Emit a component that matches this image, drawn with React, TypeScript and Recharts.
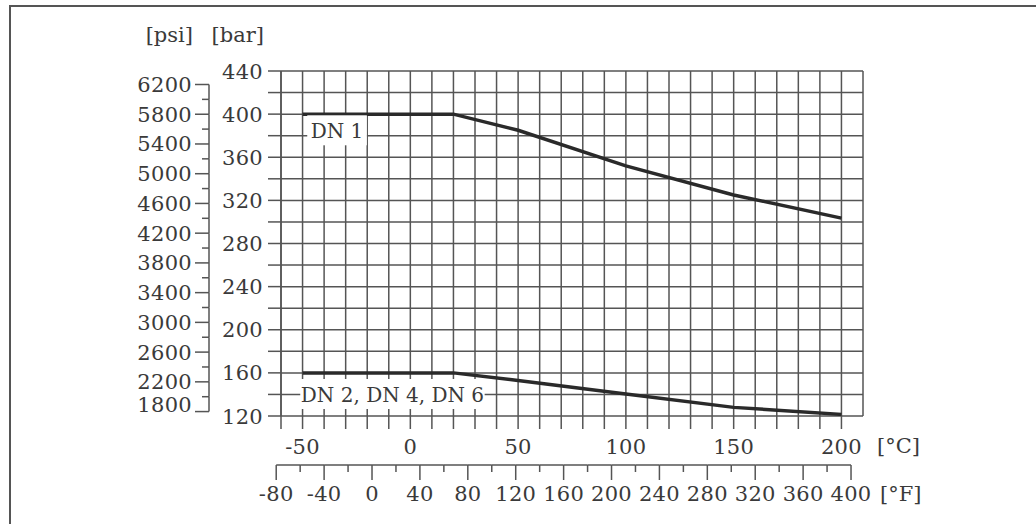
import React from 'react';
import { ComposedChart, Line, XAxis, YAxis, CartesianGrid, ReferenceDot } from 'recharts';

// ---- data ----
const tempC = [-50, 20, 50, 100, 150, 200];
const dn1Bar = [400, 400, 385, 352, 325, 303.5];
const dn246Bar = [160, 160, 153, 140.5, 128, 121.5];

const cTicks = [-60, -50, -40, -30, -20, -10, 0, 10, 20, 30, 40, 50, 60, 70, 80, 90, 100, 110, 120, 130, 140, 150, 160, 170, 180, 190, 200, 210];
const cLabels = [-50, 0, 50, 100, 150, 200];
const fTicks = [-80, -60, -40, -20, 0, 20, 40, 60, 80, 100, 120, 140, 160, 180, 200, 220, 240, 260, 280, 300, 320, 340, 360, 380, 400];
const fLabels = [-80, -40, 0, 40, 80, 120, 160, 200, 240, 280, 320, 360, 400];
const barTicks = [120, 140, 160, 180, 200, 220, 240, 260, 280, 300, 320, 340, 360, 380, 400, 420, 440];
const barLabels = [120, 160, 200, 240, 280, 320, 360, 400, 440];
const psiTicks = [1800, 2000, 2200, 2400, 2600, 2800, 3000, 3200, 3400, 3600, 3800, 4000, 4200, 4400, 4600, 4800, 5000, 5200, 5400, 5600, 5800, 6000, 6200];
const psiLabels = [1800, 2200, 2600, 3000, 3400, 3800, 4200, 4600, 5000, 5400, 5800, 6200];

const seriesNames = ['DN 1', 'DN 2, DN 4, DN 6'];
const labelTemps = [-34, -8.3];
const labelBars = [385, 140.4];

const PSI_PER_BAR = 14.5038;
const X_DOMAIN: [number, number] = [-60, 210];
const Y_DOMAIN: [number, number] = [120, 440];

const dn1Data = tempC.map((t, i) => ({ t, p: dn1Bar[i] }));
const dn246Data = tempC.map((t, i) => ({ t, p: dn246Bar[i] }));

// ---- layout ----
const W = 1036;
const H = 524;
const MARGIN = { top: 71, right: 173, bottom: 19, left: 0 };
const BAR_AXIS_W = 72;
const PSI_AXIS_W = 209;
const C_AXIS_H = 49;
const F_AXIS_H = 40;
const PLOT_W = W - MARGIN.left - MARGIN.right - BAR_AXIS_W - PSI_AXIS_W;
const PLOT_H = H - MARGIN.top - MARGIN.bottom - C_AXIS_H - F_AXIS_H;
const PSI_STEP_PX = (PLOT_H / ((Y_DOMAIN[1] - Y_DOMAIN[0]) * PSI_PER_BAR)) * (psiTicks[1] - psiTicks[0]);
const F_STEP_PX = (PLOT_W / ((X_DOMAIN[1] - X_DOMAIN[0]) * 1.8)) * (fTicks[1] - fTicks[0]);

const FONT = "'DejaVu Serif', serif";
const FS = 21;
const LS = 0.3;
const TXT = '#3a3a3a';
const GRID = '#555';
const LINE = '#2a2a2a';

const PsiTick = (props: any) => {
  const { x, y, payload } = props;
  const v = payload.value;
  const major = psiLabels.includes(v);
  const last = v === psiTicks[psiTicks.length - 1];
  const first = v === psiTicks[0];
  return (
    <g>
      <line x1={x - (major ? 14 : 7)} x2={x} y1={y} y2={y} stroke={GRID} strokeWidth={1.5} />
      {!last && <line x1={x} x2={x} y1={y} y2={y - PSI_STEP_PX} stroke={GRID} strokeWidth={1.5} />}
      {major && (
        <text x={x - 17} y={y + 7.5 - (first ? 7 : 0)} textAnchor="end" fontFamily={FONT} fontSize={FS} letterSpacing={LS} fill={TXT}>
          {v}
        </text>
      )}
    </g>
  );
};

const BarTick = (props: any) => {
  const { x, y, payload } = props;
  const v = payload.value;
  return (
    <g>
      <line x1={x - 13} x2={x} y1={y} y2={y} stroke={GRID} strokeWidth={1.5} />
      {barLabels.includes(v) && (
        <text x={x - 18} y={y + 7.5} textAnchor="end" fontFamily={FONT} fontSize={FS} letterSpacing={LS} fill={TXT}>
          {v}
        </text>
      )}
    </g>
  );
};

const CTick = (props: any) => {
  const { x, y, payload } = props;
  const v = payload.value;
  return (
    <g>
      {v < X_DOMAIN[1] && <line x1={x} x2={x} y1={y} y2={y + 13} stroke={GRID} strokeWidth={1.5} />}
      {cLabels.includes(v) && (
        <text x={x} y={y + 37.5} textAnchor="middle" fontFamily={FONT} fontSize={FS} letterSpacing={LS} fill={TXT}>
          {v}
        </text>
      )}
    </g>
  );
};

const FTick = (props: any) => {
  const { x, y, payload } = props;
  const v = payload.value;
  const major = fLabels.includes(v);
  const last = v === fTicks[fTicks.length - 1];
  return (
    <g>
      <line x1={x} x2={x} y1={y} y2={y + (major ? 15 : 7)} stroke={GRID} strokeWidth={1.5} />
      {!last && <line x1={x} x2={x + F_STEP_PX} y1={y} y2={y} stroke={GRID} strokeWidth={1.5} />}
      {major && (
        <text x={x} y={y + 36} textAnchor="middle" fontFamily={FONT} fontSize={FS} letterSpacing={LS} fill={TXT}>
          {v}
        </text>
      )}
    </g>
  );
};

const makeLabelShape = (text: string) => (props: any) => {
  const { cx, cy } = props;
  const w = text.length * 10.4 + 18;
  return (
    <g>
      <rect x={cx - w / 2} y={cy - 15} width={w} height={30} fill="#fff" />
      <text x={cx} y={cy + 7.5} textAnchor="middle" fontFamily={FONT} fontSize={20} fill={TXT}>
        {text}
      </text>
    </g>
  );
};

export default function App() {
  return (
    <div style={{ position: 'absolute', left: 0, top: 0, width: W, height: H, background: '#fff' }}>
      <ComposedChart width={W} height={H} margin={MARGIN}>
        <CartesianGrid xAxisId="c" yAxisId="bar" stroke={GRID} strokeWidth={1.5} />
        <XAxis
          xAxisId="c"
          type="number"
          dataKey="t"
          domain={X_DOMAIN}
          ticks={cTicks}
          interval={0}
          allowDataOverflow
          height={C_AXIS_H}
          axisLine={false}
          tickLine={false}
          tickSize={0}
          tickMargin={0}
          tick={<CTick />}
        />
        <XAxis
          xAxisId="f"
          type="number"
          dataKey="f"
          domain={[X_DOMAIN[0] * 1.8 + 32, X_DOMAIN[1] * 1.8 + 32]}
          ticks={fTicks}
          interval={0}
          allowDataOverflow
          height={F_AXIS_H}
          axisLine={false}
          tickLine={false}
          tickSize={0}
          tickMargin={0}
          tick={<FTick />}
        />
        <YAxis
          yAxisId="bar"
          type="number"
          domain={Y_DOMAIN}
          ticks={barTicks}
          interval={0}
          allowDataOverflow
          width={BAR_AXIS_W}
          axisLine={{ stroke: GRID, strokeWidth: 1.5 }}
          tickLine={false}
          tickSize={0}
          tickMargin={0}
          tick={<BarTick />}
        />
        <YAxis
          yAxisId="psi"
          type="number"
          domain={[Y_DOMAIN[0] * PSI_PER_BAR, Y_DOMAIN[1] * PSI_PER_BAR]}
          ticks={psiTicks}
          interval={0}
          allowDataOverflow
          width={PSI_AXIS_W}
          axisLine={false}
          tickLine={false}
          tickSize={0}
          tickMargin={0}
          tick={<PsiTick />}
        />
        <Line
          xAxisId="c"
          yAxisId="bar"
          data={dn1Data}
          dataKey="p"
          type="linear"
          stroke={LINE}
          strokeWidth={3.5}
          dot={false}
          isAnimationActive={false}
        />
        <Line
          xAxisId="c"
          yAxisId="bar"
          data={dn246Data}
          dataKey="p"
          type="linear"
          stroke={LINE}
          strokeWidth={3.5}
          dot={false}
          isAnimationActive={false}
        />
        {seriesNames.map((name, i) => (
          <ReferenceDot
            key={name}
            xAxisId="c"
            yAxisId="bar"
            x={labelTemps[i]}
            y={labelBars[i]}
            r={0}
            shape={makeLabelShape(name)}
          />
        ))}
      </ComposedChart>
      <svg width={W} height={H} style={{ position: 'absolute', left: 0, top: 0, pointerEvents: 'none' }}>
        <path d={`M10,${H} V6 H${W}`} fill="none" stroke="#555" strokeWidth={2} />
        <g fontFamily={FONT} fontSize={FS} fill={TXT}>
          <text x={193} y={42} textAnchor="end">[psi]</text>
          <text x={264} y={42} textAnchor="end">[bar]</text>
          <text x={877} y={453}>[°C]</text>
          <text x={880} y={501}>[°F]</text>
        </g>
      </svg>
    </div>
  );
}
